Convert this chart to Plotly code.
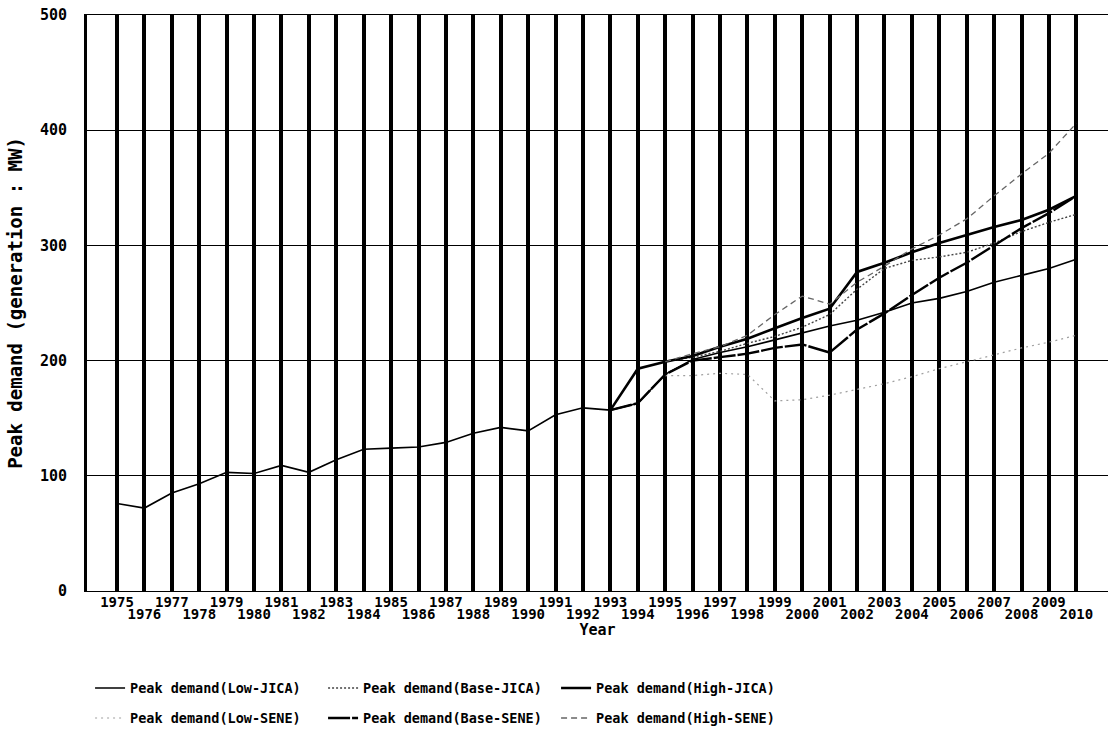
import plotly.graph_objects as go

# Recorded peak demand, 1975-1993 (MW)
actual_years = list(range(1975, 1994))
actual = [76, 72, 85, 93, 103, 102, 109, 103, 114, 123, 124, 125, 129, 137, 142, 139, 153, 159, 157]

# Forecast scenarios, 1993-2010 (MW); None where a scenario has no value
fc_years = list(range(1993, 2011))
low_jica = [157, 163, 188, 201, 207, 212, 218, 224, 230, 235, 242, 250, 254, 260, 268, 274, 280, 288]
base_jica = [None, None, 199, 203, 208, 215, 221, 229, 240, 262, 280, 287, 290, 294, 302, 312, 320, 327]
high_jica = [157, 193, 199, 204, 212, 219, 228, 237, 245, 277, 285, 294, 302, 309, 316, 322, 331, 343]
low_sene = [None, None, 187, 187, 189, 188, 165, 166, 170, 175, 180, 186, 193, 199, 205, 211, 216, 222]
base_sene = [157, 163, 188, 200, 203, 206, 211, 214, 207, 227, 241, 257, 272, 285, 300, 315, 328, 343]
high_sene = [None, None, 199, 206, 212, 222, 240, 256, 249, 268, 282, 297, 309, 323, 343, 362, 380, 406]

year_ticks = list(range(1975, 2011))
odd_years = [y for y in year_ticks if y % 2 == 1]
even_years = [y for y in year_ticks if y % 2 == 0]
y_ticks = [0, 100, 200, 300, 400, 500]

MONO = "DejaVu Sans Mono"

jica = [
    ("Peak demand(Low-JICA)", low_jica, dict(color="black", width=1.6)),
    ("Peak demand(Base-JICA)", base_jica, dict(color="#444444", width=1.4, dash="2px,2px")),
    ("Peak demand(High-JICA)", high_jica, dict(color="black", width=2.6)),
]
sene = [
    ("Peak demand(Low-SENE)", low_sene, dict(color="#a0a0a0", width=1.2, dash="2px,4px")),
    ("Peak demand(Base-SENE)", base_sene, dict(color="black", width=2.4, dash="22px,2px")),
    ("Peak demand(High-SENE)", high_sene, dict(color="#666666", width=1.3, dash="6px,4px")),
]

fig = go.Figure()

# the recorded series sits on the companion x axis (same range) so its labels render
fig.add_trace(go.Scatter(x=actual_years, y=actual, mode="lines", showlegend=False,
                         xaxis="x2", yaxis="y",
                         line=dict(color="black", width=1.6), hoverinfo="skip"))

for name, vals, style in jica:
    fig.add_trace(go.Scatter(x=fc_years, y=vals, mode="lines", name=name, line=style,
                             legend="legend"))
for name, vals, style in sene:
    fig.add_trace(go.Scatter(x=fc_years, y=vals, mode="lines", name=name, line=style,
                             legend="legend2"))

x_tick_font = dict(family=MONO, size=14, color="black", weight="bold")
y_tick_font = dict(family=MONO, size=15, color="black", weight="bold")
legend_font = dict(family=MONO, size=13.5, color="black", weight="bold")
x_range = [1973.905, 2011.155]

legend_common = dict(
    orientation="h", x=0.003, xanchor="left", yanchor="top",
    font=legend_font, entrywidth=188, entrywidthmode="pixels", itemwidth=30,
    bgcolor="rgba(0,0,0,0)",
)

fig.update_layout(
    width=1108, height=755,
    margin=dict(l=87, r=0, t=15, b=164),
    paper_bgcolor="white", plot_bgcolor="white",
    font=dict(family=MONO, color="black"),
    # odd years on the upper label row, with one vertical rule per year
    xaxis=dict(
        range=x_range,
        tickmode="array", tickvals=year_ticks,
        ticktext=[str(y) if y % 2 == 1 else "" for y in year_ticks],
        tickangle=0, tickfont=x_tick_font, ticklabelstandoff=-2,
        showgrid=True, gridcolor="black", gridwidth=4,
        showline=True, linecolor="black", linewidth=1, mirror=True,
        ticks="", zeroline=False,
        title=dict(text="<b>Year</b>", font=dict(size=15, family=MONO), standoff=15),
    ),
    # even years on the lower label row
    xaxis2=dict(
        range=x_range, overlaying="x", side="bottom", anchor="y",
        tickmode="array", tickvals=even_years, ticktext=[str(y) for y in even_years],
        tickangle=0, tickfont=x_tick_font, ticklabelstandoff=13,
        showgrid=False, showline=False, ticks="", zeroline=False,
    ),
    yaxis=dict(
        range=[0, 500],
        tickmode="array", tickvals=y_ticks,
        tickfont=y_tick_font,
        showgrid=True, gridcolor="black", gridwidth=1,
        showline=True, linecolor="black", linewidth=3,
        ticks="", zeroline=False, ticklabelstandoff=14,
        title=dict(text="<b>Peak demand (generation : MW)</b>",
                   font=dict(size=19, family=MONO), standoff=13),
    ),
    legend=dict(legend_common, y=-0.142),
    legend2=dict(legend_common, y=-0.194),
    showlegend=True,
)

fig.write_html("out.html")
